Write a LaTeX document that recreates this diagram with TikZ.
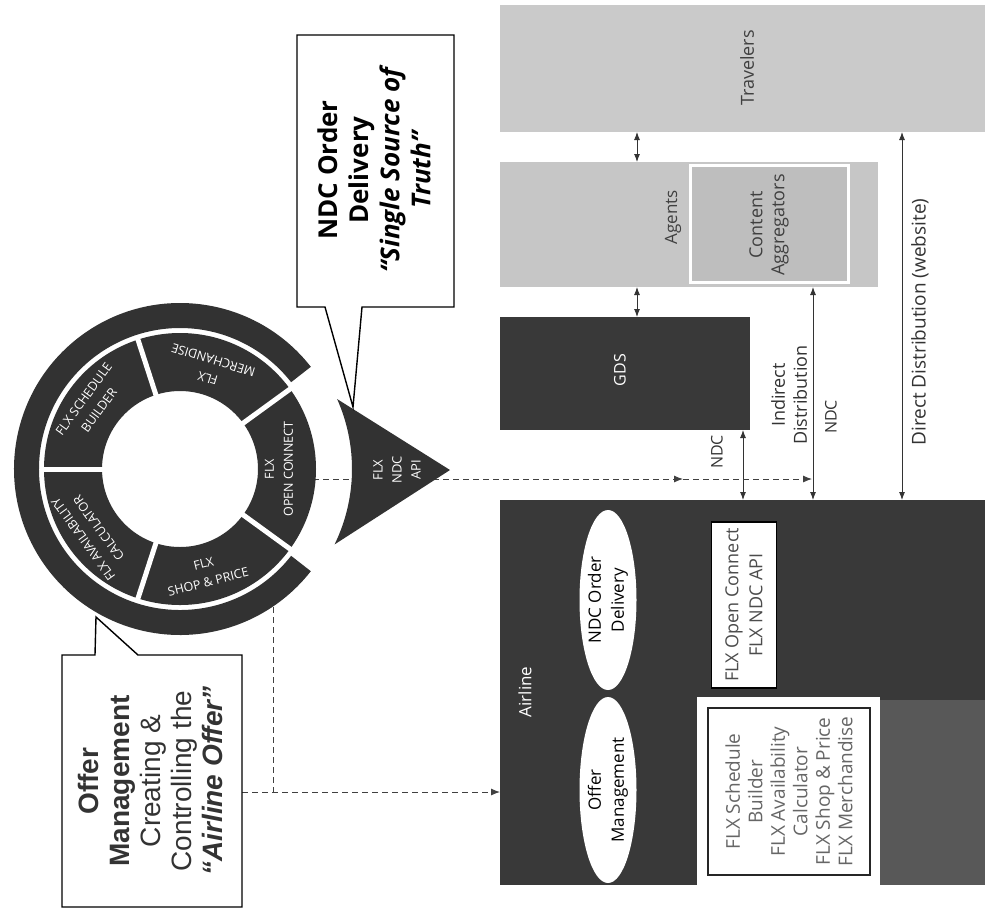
\documentclass[tikz,border=0pt]{standalone}
\usepackage{fontspec}
\setmainfont{Open Sans}
\newfontfamily\arialf{Liberation Sans}
\usetikzlibrary{arrows.meta,shapes.geometric}
\definecolor{darkA}{HTML}{393939}
\definecolor{wheeldark}{HTML}{323232}
\definecolor{lightA}{HTML}{CACACA}
\definecolor{lightB}{HTML}{C6C6C6}
\definecolor{lightC}{HTML}{BEBEBE}
\definecolor{stripe}{HTML}{585858}
\newcommand\fsz[2]{\fontsize{#1}{#2}\selectfont}
\tikzset{
  lbl/.style={rotate=90, align=center, inner sep=0},
  wlbl/.style={align=center, inner sep=0, text=white, font=\fsz{12.5}{19}},
  dashline/.style={draw=black!75, line width=0.9pt, dash pattern=on 6pt off 4pt},
  dbl/.style={draw=black!80, line width=0.9pt, {Latex[length=8pt,width=6pt]}-{Latex[length=8pt,width=6pt]}},
  dtip/.style={-{Latex[length=9pt,width=7pt]}},
  boxnode/.style={inner sep=0, anchor=north west, outer sep=0}
}
\begin{document}
\begin{tikzpicture}[x=1pt,y=1pt]
\useasboundingbox (0,0) rectangle (985,-914);
\fill[white] (0,0) rectangle (985,-914);

% ---------- right side boxes ----------
\node[boxnode, fill=lightA, minimum width=485, minimum height=127] (travelers) at (500,-5) {};
\node[boxnode, fill=lightB, minimum width=378, minimum height=125] (agents) at (500,-162) {};
\node[boxnode, fill=lightC, draw=white, line width=3pt, minimum width=158, minimum height=117] (aggr) at (690,-165) {};
\node[boxnode, fill=darkA, minimum width=250, minimum height=113] (gds) at (500,-317) {};
\node[boxnode, fill=darkA, minimum width=485, minimum height=385] (airline) at (500,-500) {};
\fill[stripe] (880,-700) rectangle (985,-885);

\node[lbl, font=\fsz{18}{22}, text=black!75] (ttrav) at (747,-68) {Travelers};
\node[lbl, font=\fsz{17}{21}, text=black!75] (tagents) at (673,-217) {Agents};
\node[lbl, font=\fsz{18}{22}, text=black!75] (taggr) at (769,-225) {Content\\Aggregators};
\node[lbl, font=\fsz{16}{20}, text=white] (tgds) at (620,-370) {GDS};
\node[lbl, font=\fsz{17}{21}, text=white] (tair) at (525,-692) {Airline};

% ellipses and inner boxes of the airline
\node[ellipse, rotate=90, fill=white, minimum width=180, minimum height=57, inner sep=0, align=center, font=\fsz{17}{23}] (ndcod) at (608,-600) {NDC Order\\Delivery};
\node[ellipse, rotate=90, fill=white, minimum width=186, minimum height=57, inner sep=0, align=center, font=\fsz{17}{23}] (offm) at (608,-790) {Offer\\Management};
\node[rotate=90, draw=black, line width=1.5pt, fill=white, minimum width=166, minimum height=65, inner sep=0, align=center, font=\fsz{18}{24}, text=black!70] (ocbox) at (744,-605) {FLX Open Connect\\FLX NDC API};
\fill[white] (697,-697) rectangle (880,-885);
\node[rotate=90, draw=black!85, line width=2.5pt, minimum width=167, minimum height=162, inner sep=0, align=center, font=\fsz{19}{22.5}, text=black!60] (flxlist) at (789,-791.5) {FLX Schedule\\Builder\\FLX Availability\\Calculator\\FLX Shop \& Price\\FLX Merchandise};

% ---------- solid arrows ----------
\coordinate (xa) at (637,0);
\coordinate (xg) at (743,0);
\coordinate (xi) at (813,0);
\coordinate (xd) at (902,0);
\draw[dbl] (xa |- travelers.south) -- (xa |- agents.north);
\draw[dbl] (xa |- agents.south) -- (xa |- gds.north);
\draw[dbl] (xg |- gds.south) -- (xg |- airline.north);
\draw[dbl] (xi |- agents.south) -- (xi |- airline.north);
\draw[dbl] (xd |- travelers.south) -- (xd |- airline.north);
\node[lbl, font=\fsz{16}{20}, text=black!80] (lndc1) at (717,-452) {NDC};
\node[lbl, font=\fsz{18}{22}, text=black!80] (lind) at (789,-395) {Indirect\\Distribution};
\node[lbl, font=\fsz{16}{20}, text=black!80] (lndc2) at (831,-417) {NDC};
\node[lbl, font=\fsz{19}{22}, text=black!80] (ldir) at (920,-322) {Direct Distribution (website)};

% ---------- dashed connectors ----------
\coordinate (ocR) at (313,-479);
\coordinate (midA) at (683,-479);
\coordinate (ndcX) at (812,-479);
\coordinate (spB) at (273,-607);
\coordinate (spJ) at (273,-792);
\coordinate (offR) at (242,-792);
\draw[dashline, dtip] (ocR) -- (midA);
\draw[dashline, dtip] (midA) -- (ndcX);
\draw[dashline] (spB) -- (spJ);
\draw[dashline, dtip] (offR) -- (airline.west |- offR);

% ---------- wheel ----------
\begin{scope}[shift={(180,-469)}]
  \fill[wheeldark] (38:166) arc[start angle=38, end angle=322, radius=166]
     -- (322:141) arc[start angle=322, end angle=38, radius=141] -- cycle;
  \fill[wheeldark, even odd rule] (0,0) circle[radius=136] (0,0) circle[radius=78];
  \foreach \a in {180,108,36,-36,-108} \draw[white, line width=5pt] (\a:74) -- (\a:139);
  % triangle FLX NDC API
  \fill[wheeldark] (24:172) arc[start angle=24, end angle=-26, radius=172] -- (270,-1) -- cycle;
\end{scope}
% segment labels
\node[wlbl, rotate=54] (sbuild) at (91.4,-404.6) {FLX SCHEDULE\\BUILDER};
\node[wlbl, rotate=126] (savail) at (91,-533.7) {FLX AVAILABILITY\\CALCULATOR};
\node[wlbl, rotate=163] (smerch) at (210.6,-369.1) {FLX\\MERCHANDISE};
\node[wlbl, rotate=90] (sopen) at (279,-469) {FLX\\OPEN CONNECT};
\node[wlbl, rotate=14] (sshop) at (205.9,-572.8) {FLX\\SHOP \& PRICE};
\node[lbl, font=\fsz{13}{19}, text=white] (ndcapi) at (397,-470) {FLX\\NDC\\API};

% ---------- callouts ----------
\draw[line width=1.4pt, fill=white] (297,-35) -- (454,-35) -- (454,-307) -- (362,-307) -- (353,-407) -- (325,-307) -- (297,-307) -- cycle;
\node[lbl, font=\fsz{26}{31}] (ndctext) at (374,-170) {{\bfseries NDC Order}\\{\bfseries Delivery}\\{\bfseries\itshape “Single Source of}\\{\bfseries\itshape Truth”}};
\draw[line width=1.4pt, fill=white] (62,-655) -- (95,-655) -- (96,-617) -- (138,-655) -- (242,-655) -- (242,-907) -- (62,-907) -- cycle;
\node[lbl, font=\arialf\fsz{28}{31}, text=black!80] (offtext) at (150,-781) {{\bfseries Offer}\\{\bfseries Management}\\Creating \&\\Controlling the\\{\bfseries\itshape “Airline Offer”}};
\end{tikzpicture}
\end{document}
